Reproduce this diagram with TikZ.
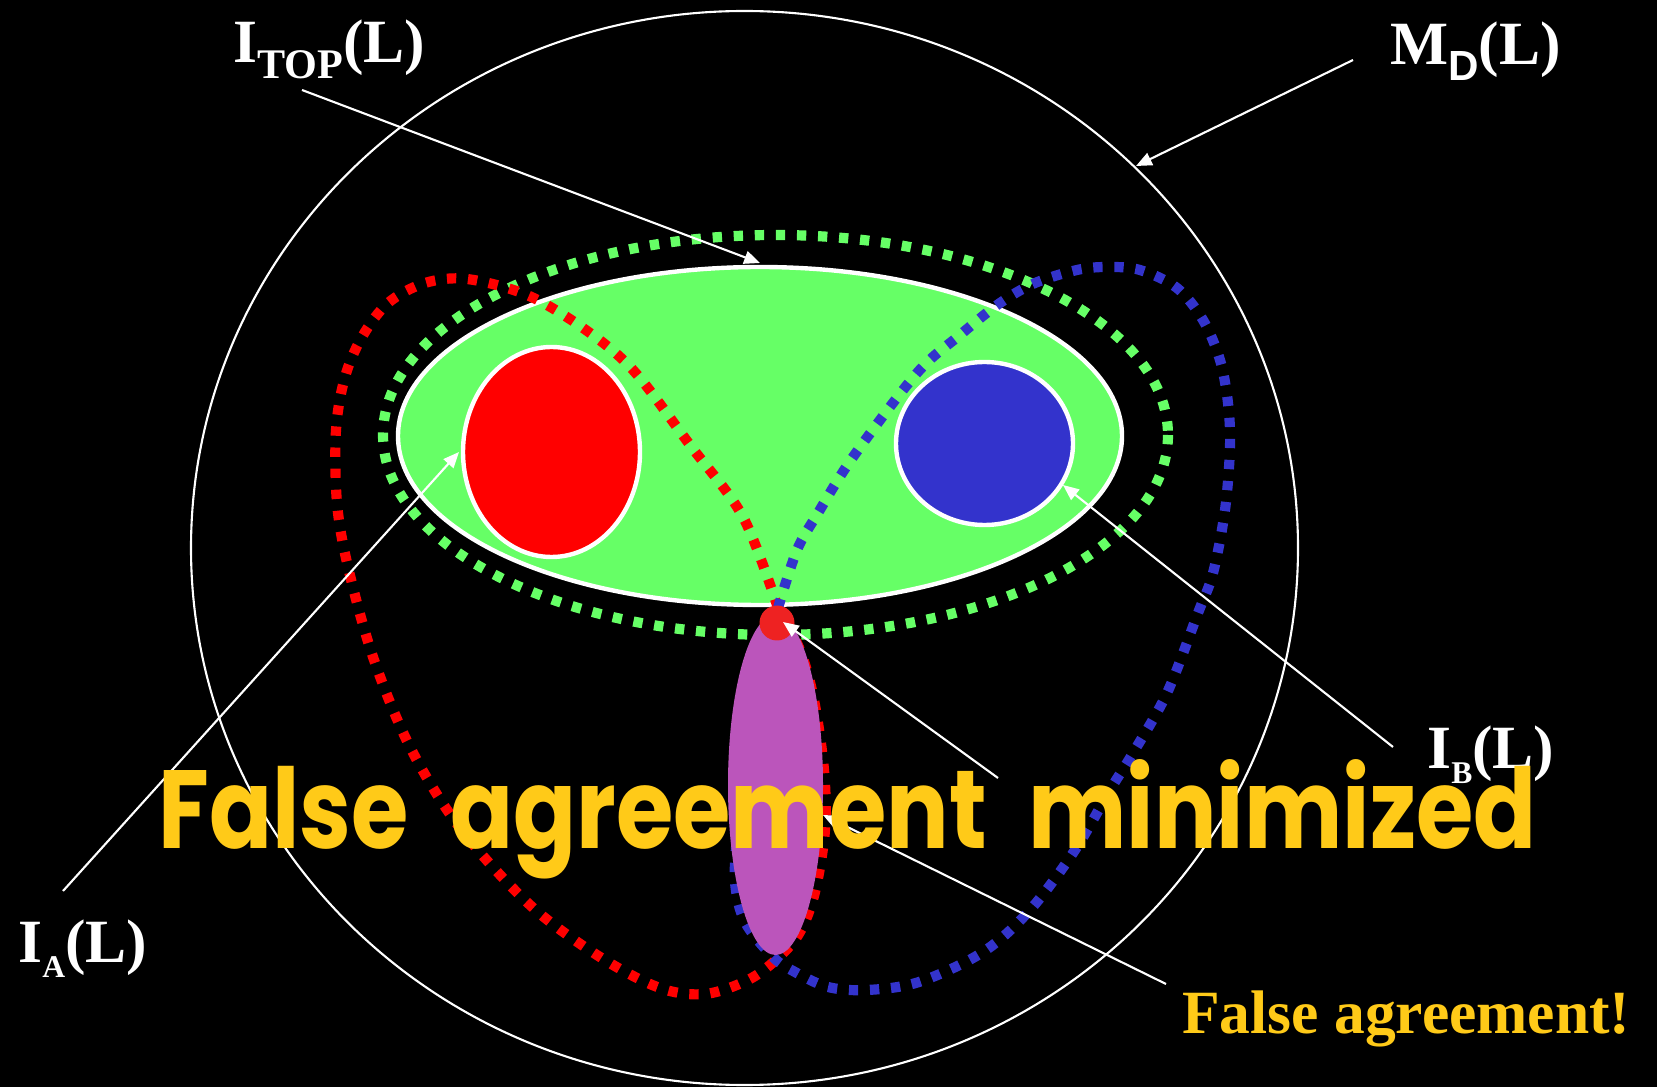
\documentclass[tikz,border=0pt]{standalone}
\usepackage{fontspec}
\setmainfont{Liberation Serif}
\newfontfamily\subsans{Liberation Sans}
\newfontfamily\bannerfont{Poppins}
\usetikzlibrary{arrows.meta}
\definecolor{setgreen}{HTML}{66FF66}
\definecolor{setred}{HTML}{FF0000}
\definecolor{setblue}{HTML}{3333CC}
\definecolor{overlap}{HTML}{BB55BB}
\definecolor{falsedot}{HTML}{EE2222}
\definecolor{warn}{HTML}{FFCA18}
\newcommand{\interp}[3]{#1\raisebox{-9pt}{\fontsize{#3}{#3}\selectfont #2}(L)}

\begin{document}
\begin{tikzpicture}[x=0.02cm, y=-0.02cm,
    lab/.style={anchor=base west, inner sep=0, text=white,
      font=\fontsize{35}{40}\selectfont\bfseries},
    pointer/.style={draw=white, line width=1.2pt, -{Triangle[length=9pt,width=7.5pt]}},
    dotline/.style={line width=5.8pt, dash pattern=on 5.3pt off 6.7pt}]
  \fill[black] (0,0) rectangle (1657,1087);
  \useasboundingbox (0,0) rectangle (1657,1087);

  % sets
  \draw[white, line width=1.2pt] (744.5,548) ellipse [x radius=553.5, y radius=537];
  \draw[white, line width=2.5pt, fill=setgreen] (760,436) ellipse [x radius=362, y radius=169];
  \draw[white, line width=2.5pt, fill=setred] (551.5,452) ellipse [x radius=88.5, y radius=105];
  \draw[white, line width=2.5pt, fill=setblue] (984.5,443.5) ellipse [x radius=88.5, y radius=81.5];
  \draw[setgreen, dotline] (775.5,435) ellipse [x radius=392.5, y radius=200];

  % hypothesis regions of the two learners
  \draw[setred, dotline] plot[smooth, tension=0.55] coordinates {
    (778,608) (743,517) (690,445) (633,370) (583,328) (527,295) (467,279)
    (425,283) (388,303) (362,337) (345,377) (336,430) (337,503) (348,567)
    (373,657) (410,747) (460,828) (530,905) (600,957) (660,988) (705,994)
    (748,980) (778,958) (800,932) (815,892) (825,830) (824,770) (814,700)
    (800,650) (778,608)};
  \draw[setblue, dotline] plot[smooth, tension=0.55] coordinates {
    (778,608) (797,550) (818,513) (853,457) (917,373) (960,335) (1000,303)
    (1035,283) (1077,270) (1107,267) (1140,270) (1177,288) (1203,320)
    (1220,360) (1228,403) (1230,447) (1225,510) (1213,573) (1198,613)
    (1167,693) (1133,753) (1110,790) (1075,850) (1030,910) (983,952)
    (919,982) (867,990) (828,987) (795,972) (773,957) (745,922) (735,882)
    (737,830) (738,770) (742,700) (753,650) (778,608)};
  \fill[overlap] (775.5,785) ellipse [x radius=47.5, y radius=170];
  \fill[falsedot] (777,623) circle [radius=17.5];

  % labels
  \node[lab] (itop) at (233,63) {\interp{I}{TOP}{24}};
  \node[lab] (md) at (1390,65) {\interp{M}{\subsans D}{24}};
  \node[lab] (ia) at (18,962) {\interp{I}{A}{18}};
  \node[lab] (ib) at (1427,768) {\interp{I}{B}{18}};
  \node[lab, text=warn] (fa) at (1182,1033) {False agreement!};

  \coordinate (itop-tail) at (302,90);  \coordinate (itop-tip) at (760,263);
  \coordinate (md-tail) at (1353,60);   \coordinate (md-tip) at (1136,166);
  \coordinate (ia-tail) at (63,891);    \coordinate (ia-tip) at (459,452);
  \coordinate (ib-tail) at (1393,747);  \coordinate (ib-tip) at (1063,485);
  \coordinate (dot-tail) at (998,778);  \coordinate (dot-tip) at (783,622);
  \coordinate (fa-tail) at (1166,984);  \coordinate (fa-tip) at (823,815);
  \draw[pointer] (itop-tail) -- (itop-tip);
  \draw[pointer] (md-tail) -- (md-tip);
  \draw[pointer] (ia-tail) -- (ia-tip);
  \draw[pointer] (ib-tail) -- (ib-tip);
  \draw[pointer] (dot-tail) -- (dot-tip);
  \draw[pointer] (fa-tail) -- (fa-tip);

  \node[anchor=base west, inner sep=0, text=warn] (banner) at (158,848)
    {\resizebox{27.56cm}{1.78cm}{\bannerfont\bfseries
      False\hspace{0.45em}agreement\hspace{0.45em}minimized}};
\end{tikzpicture}
\end{document}
